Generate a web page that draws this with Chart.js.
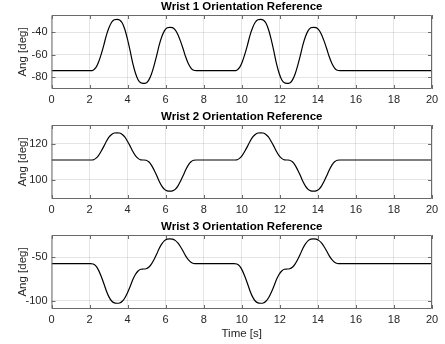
<!DOCTYPE html>
<html>
<head>
<meta charset="utf-8">
<script src="https://cdn.jsdelivr.net/npm/chart.js@4"></script>
<style>
  html, body { margin: 0; padding: 0; background: #fff; }
  body { width: 445px; height: 344px; position: relative; overflow: hidden; }
  canvas { position: absolute; left: 0; display: block; }
</style>
</head>
<body>
<canvas id="c1" width="445" height="110" style="top:0px"></canvas>
<canvas id="c2" width="445" height="110" style="top:110px"></canvas>
<canvas id="c3" width="445" height="124" style="top:220px"></canvas>
<script>
// ---- data ----
const time = [0,
  2.05, 2.19, 2.33, 2.47, 2.61, 2.75, 2.88, 3.02, 3.16, 3.30, 3.44,
  3.58, 3.72, 3.86, 4.00, 4.14, 4.27, 4.41, 4.55, 4.69, 4.83,
  4.97, 5.11, 5.25, 5.39, 5.53, 5.66, 5.80, 5.94, 6.08, 6.22,
  6.36, 6.50, 6.64, 6.78, 6.92, 7.05, 7.19, 7.33, 7.47, 7.61,
  9.60, 9.74, 9.88, 10.02, 10.16, 10.30, 10.43, 10.57, 10.71, 10.85, 10.99,
  11.13, 11.27, 11.41, 11.55, 11.69, 11.82, 11.96, 12.10, 12.24, 12.38,
  12.52, 12.66, 12.80, 12.94, 13.08, 13.21, 13.35, 13.49, 13.63, 13.77,
  13.91, 14.05, 14.19, 14.33, 14.47, 14.60, 14.74, 14.88, 15.02, 15.16,
  20];

const wrist1 = [-74.1,
  -74.1, -73.7, -71.5, -66.6, -59.6, -51.3, -42.9, -35.9, -31.0, -28.8, -28.4,
  -28.9, -31.7, -37.7, -46.5, -57.0, -67.4, -76.2, -82.2, -85.0, -85.5,
  -85.1, -82.6, -77.3, -69.6, -60.5, -51.4, -43.7, -38.4, -35.9, -35.5,
  -35.8, -37.7, -41.8, -47.8, -54.8, -61.8, -67.8, -71.9, -73.8, -74.1,
  -74.1, -73.7, -71.5, -66.6, -59.6, -51.3, -42.9, -35.9, -31.0, -28.8, -28.4,
  -28.9, -31.7, -37.7, -46.5, -57.0, -67.4, -76.2, -82.2, -85.0, -85.5,
  -85.1, -82.6, -77.3, -69.6, -60.5, -51.4, -43.7, -38.4, -35.9, -35.5,
  -35.8, -37.7, -41.8, -47.8, -54.8, -61.8, -67.8, -71.9, -73.8, -74.1,
  -74.1];

const wrist2 = [111,
  111, 111.1, 111.9, 113.4, 115.8, 118.5, 121.2, 123.6, 125.1, 125.9, 126,
  125.9, 125.1, 123.6, 121.2, 118.5, 115.8, 113.4, 111.9, 111.1, 111,
  110.85, 110.0, 108.2, 105.5, 102.4, 99.3, 96.6, 94.8, 93.95, 93.8,
  93.95, 94.8, 96.6, 99.3, 102.4, 105.5, 108.2, 110.0, 110.85, 111,
  111, 111.1, 111.9, 113.4, 115.8, 118.5, 121.2, 123.6, 125.1, 125.9, 126,
  125.9, 125.1, 123.6, 121.2, 118.5, 115.8, 113.4, 111.9, 111.1, 111,
  110.85, 110.0, 108.2, 105.5, 102.4, 99.3, 96.6, 94.8, 93.95, 93.8,
  93.95, 94.8, 96.6, 99.3, 102.4, 105.5, 108.2, 110.0, 110.85, 111,
  111];

const wrist3 = [-57.4,
  -57.4, -57.8, -60.0, -64.8, -71.9, -80.2, -88.5, -95.6, -100.4, -102.6, -103,
  -102.7, -100.7, -96.6, -90.5, -83.3, -76.0, -69.9, -65.8, -63.8, -63.5,
  -63.2, -61.5, -57.8, -52.5, -46.2, -39.8, -34.5, -30.8, -29.1, -28.8,
  -29.05, -30.5, -33.5, -37.9, -43.1, -48.3, -52.7, -55.7, -57.15, -57.4,
  -57.4, -57.8, -60.0, -64.8, -71.9, -80.2, -88.5, -95.6, -100.4, -102.6, -103,
  -102.7, -100.7, -96.6, -90.5, -83.3, -76.0, -69.9, -65.8, -63.8, -63.5,
  -63.2, -61.5, -57.8, -52.5, -46.2, -39.8, -34.5, -30.8, -29.1, -28.8,
  -29.05, -30.5, -33.5, -37.9, -43.1, -48.3, -52.7, -55.7, -57.15, -57.4,
  -57.4];

const xTicks = [0, 2, 4, 6, 8, 10, 12, 14, 16, 18, 20];
const yTicks1 = [-80, -60, -40];
const yTicks2 = [100, 120];
const yTicks3 = [-100, -50];

const titles = ['Wrist 1 Orientation Reference', 'Wrist 2 Orientation Reference', 'Wrist 3 Orientation Reference'];
const yLimits = [[-90.5, -24.5], [89.5, 130.3], [-109.6, -24.3]];

// ---- drawing ----
const FONT = "'Liberation Sans', Arial, Helvetica, sans-serif";
const AXIS_COLOR = '#262626';
const BOX_COLOR = '#6a6a6a';

const boxPlugin = {
  id: 'matlabBox',
  afterDraw(chart) {
    const ctx = chart.ctx;
    const a = chart.chartArea;
    const xs = chart.scales.x, ys = chart.scales.y;
    ctx.save();
    ctx.strokeStyle = BOX_COLOR;
    ctx.lineWidth = 1;
    ctx.beginPath();
    ctx.rect(a.left + 0.5, a.top + 0.5, a.right - a.left - 1, a.bottom - a.top - 1);
    ctx.stroke();
    const tl = 4;
    ctx.beginPath();
    xs.ticks.forEach(t => {
      const px = Math.round(xs.getPixelForValue(t.value)) + 0.5;
      ctx.moveTo(px, a.bottom); ctx.lineTo(px, a.bottom - tl);
      ctx.moveTo(px, a.top); ctx.lineTo(px, a.top + tl);
    });
    ys.ticks.forEach(t => {
      const py = Math.round(ys.getPixelForValue(t.value)) + 0.5;
      ctx.moveTo(a.left, py); ctx.lineTo(a.left + tl, py);
      ctx.moveTo(a.right, py); ctx.lineTo(a.right - tl, py);
    });
    ctx.stroke();
    // axes title, centred over the plot box like MATLAB
    const text = chart.options.plugins.matlabBox.text;
    ctx.fillStyle = '#000';
    ctx.font = "bold 11.5px " + FONT;
    ctx.textAlign = 'center';
    ctx.textBaseline = 'middle';
    ctx.fillText(text, (a.left + a.right) / 2, a.top - 8);
    ctx.restore();
  }
};

function makeChart(id, idx, values, yTicks, showXTitle) {
  const ctx = document.getElementById(id);
  const pts = time.map((t, i) => ({ x: t, y: values[i] }));
  return new Chart(ctx, {
    type: 'line',
    data: {
      datasets: [{
        data: pts,
        borderColor: '#000',
        borderWidth: 1.2,
        pointRadius: 0,
        cubicInterpolationMode: 'monotone',
        fill: false
      }]
    },
    options: {
      responsive: false,
      animation: false,
      devicePixelRatio: 1,
      layout: { padding: { left: 0, right: 13, top: 15, bottom: 0 } },
      plugins: {
        legend: { display: false },
        tooltip: { enabled: false },
        title: { display: false },
        matlabBox: { text: titles[idx] }
      },
      scales: {
        x: {
          type: 'linear',
          min: 0, max: 20,
          afterBuildTicks: s => { s.ticks = xTicks.map(v => ({ value: v })); },
          afterFit: s => { s.height = showXTitle ? 35 : 21; },
          ticks: { color: AXIS_COLOR, font: { family: FONT, size: 11 }, padding: 4, maxRotation: 0, autoSkip: false },
          grid: { color: 'rgba(38,38,38,0.12)', drawTicks: false, lineWidth: 1 },
          border: { display: false },
          title: {
            display: showXTitle,
            text: 'Time [s]',
            color: AXIS_COLOR,
            font: { family: FONT, size: 11.5, lineHeight: 1.2 },
            padding: { top: 0, bottom: 3 }
          }
        },
        y: {
          type: 'linear',
          min: yLimits[idx][0], max: yLimits[idx][1],
          afterBuildTicks: s => { s.ticks = yTicks.map(v => ({ value: v })); },
          afterFit: s => { s.width = 51.5; },
          ticks: { color: AXIS_COLOR, font: { family: FONT, size: 11 }, padding: 4 },
          grid: { color: 'rgba(38,38,38,0.12)', drawTicks: false, lineWidth: 1 },
          border: { display: false },
          title: {
            display: true,
            text: 'Ang [deg]',
            color: AXIS_COLOR,
            font: { family: FONT, size: 11.5, lineHeight: 1.2 },
            padding: { top: 16, bottom: 0 }
          }
        }
      }
    },
    plugins: [boxPlugin]
  });
}

makeChart('c1', 0, wrist1, yTicks1, false);
makeChart('c2', 1, wrist2, yTicks2, false);
makeChart('c3', 2, wrist3, yTicks3, true);
</script>
</body>
</html>
